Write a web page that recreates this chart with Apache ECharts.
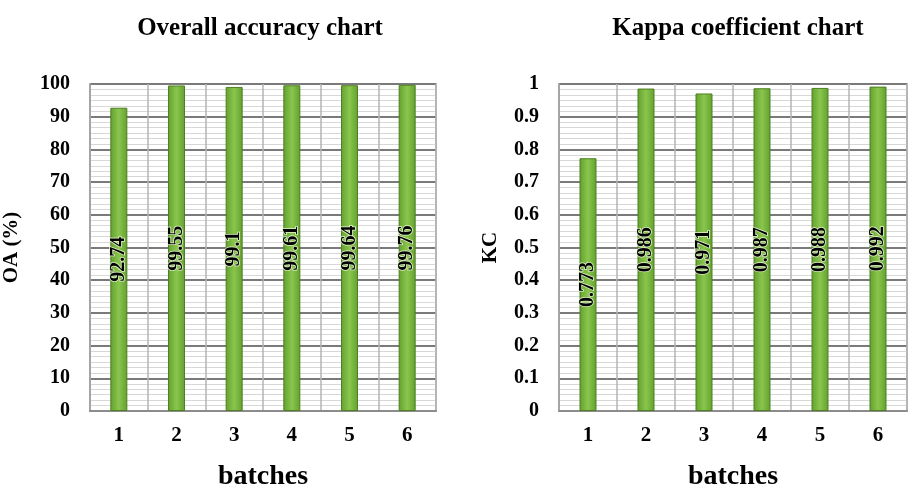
<!DOCTYPE html>
<html><head><meta charset="utf-8">
<script src="https://cdn.jsdelivr.net/npm/echarts@6/dist/echarts.min.js"></script>
<style>html,body{margin:0;padding:0;background:#fff}#c{width:910px;height:496px}</style>
</head><body><div id="c"></div>
<script>
const batches = ['1','2','3','4','5','6'];
const oaValues = [92.74, 99.55, 99.1, 99.61, 99.64, 99.76];
const kcValues = [0.773, 0.986, 0.971, 0.987, 0.988, 0.992];
const titles = ['Overall accuracy chart', 'Kappa coefficient chart'];
const yNames = ['OA (%)', 'KC'];
const xName = 'batches';

const FONT = '"Liberation Serif", "Times New Roman", serif';
const chart = echarts.init(document.getElementById('c'));

function xAxis(i){
  return {
    type:'category', gridIndex:i, data:batches, boundaryGap:true,
    name:xName, nameLocation:'middle', nameGap:52,
    nameTextStyle:{fontFamily:FONT, fontWeight:'bold', fontSize:28, color:'#000'},
    axisLine:{show:true, lineStyle:{color:'#8c8c8c', width:2}},
    axisTick:{show:false},
    axisLabel:{fontFamily:FONT, fontWeight:'bold', fontSize:21, color:'#000', margin:14},
    splitLine:{show:true, lineStyle:{color:'#b4b4b4', width:1.5}}
  };
}
function yAxis(i, max, interval, gap, fmt){
  return {
    type:'value', gridIndex:i, min:0, max:max, interval:interval,
    name:yNames[i], nameLocation:'middle', nameGap:gap, nameRotate:90,
    nameTextStyle:{fontFamily:FONT, fontWeight:'bold', fontSize:21, color:'#000'},
    axisLine:{show:true, lineStyle:{color:'#a0a0a0', width:1.5}},
    axisTick:{show:false},
    axisLabel:{fontFamily:FONT, fontWeight:'bold', fontSize:20, color:'#000', margin:20, formatter:fmt},
    splitLine:{show:true, lineStyle:{color:'#7a7a7a', width:2}},
    minorTick:{show:false, splitNumber:6},
    minorSplitLine:{show:true, lineStyle:{color:'#d8d8d8', width:1}}
  };
}
function barSeries(i, data){
  return {
    type:'bar', xAxisIndex:i, yAxisIndex:i, data:data, barWidth:17,
    itemStyle:{
      color:new echarts.graphic.LinearGradient(0,0,1,0,[
        {offset:0,color:'#62a02e'},{offset:0.5,color:'#8ac64e'},{offset:1,color:'#62a02e'}]),
      borderColor:'#4e7f22', borderWidth:1
    },
    label:{show:true, position:'inside', rotate:90,
      fontFamily:FONT, fontWeight:'bold', fontSize:20, color:'#000',
      textBorderColor:'#e6f5cf', textBorderWidth:1.5},
    z:3
  };
}

chart.setOption({
  backgroundColor:'#fff',
  animation:false,
  title:[
    {text:titles[0], left:255, top:11, textAlign:'center',
     textStyle:{fontFamily:FONT, fontWeight:'bold', fontSize:25, color:'#000'}},
    {text:titles[1], left:733, top:11, textAlign:'center',
     textStyle:{fontFamily:FONT, fontWeight:'bold', fontSize:25, color:'#000'}}
  ],
  grid:[
    {left:90, right:474, top:84, bottom:79, show:true, borderColor:'#9a9a9a', borderWidth:1.5, backgroundColor:'#fff'},
    {left:559, right:3, top:84, bottom:79, show:true, borderColor:'#9a9a9a', borderWidth:1.5, backgroundColor:'#fff'}
  ],
  xAxis:[xAxis(0), xAxis(1)],
  yAxis:[
    yAxis(0, 100, 10, 68, v=>String(v)),
    yAxis(1, 1, 0.1, 58, v=>String(+v.toFixed(1)))
  ],
  series:[barSeries(0, oaValues), barSeries(1, kcValues)]
});
</script></body></html>
